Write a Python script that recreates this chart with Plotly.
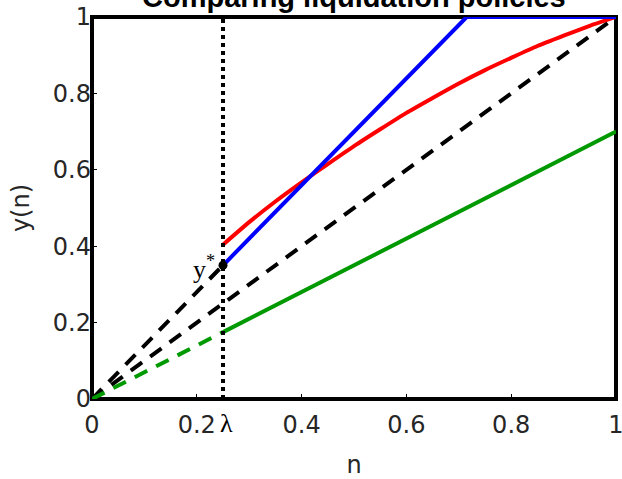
import plotly.graph_objects as go

# ---- data ----
lam = 0.25
y_star = 0.35
green_at_lam = 0.175
green_end = 0.70
blue_x = [0.25, 0.715, 1.0]
blue_y = [0.35, 1.0, 1.0]
red_x = [0.25, 0.30, 0.35, 0.40, 0.45, 0.50, 0.55, 0.60, 0.65, 0.70, 0.75, 0.80, 0.85, 0.90, 0.95, 1.00]
red_y = [0.404, 0.463, 0.517, 0.567, 0.615, 0.662, 0.706, 0.749, 0.788, 0.826, 0.861, 0.893, 0.924, 0.951, 0.977, 1.000]
diag_x = [0.0, 1.0]
diag_y = [0.0, 1.0]
tick_vals = [0, 0.2, 0.4, 0.6, 0.8, 1]
tick_text = ["0", "0.2", "0.4", "0.6", "0.8", "1"]

LW = 4
fig = go.Figure()

fig.add_trace(go.Scatter(x=diag_x, y=diag_y, mode="lines",
                         line=dict(color="black", width=LW, dash="14px,10px"), cliponaxis=False))
fig.add_trace(go.Scatter(x=[0, lam], y=[0, y_star], mode="lines",
                         line=dict(color="black", width=LW, dash="14px,10px"), cliponaxis=False))
fig.add_trace(go.Scatter(x=[0, lam], y=[0, green_at_lam], mode="lines",
                         line=dict(color="#009900", width=LW, dash="14px,10px"), cliponaxis=False))
fig.add_trace(go.Scatter(x=[lam, 1.0], y=[green_at_lam, green_end], mode="lines",
                         line=dict(color="#009900", width=LW), cliponaxis=False))
fig.add_trace(go.Scatter(x=red_x, y=red_y, mode="lines", line_shape="spline",
                         line=dict(color="#ff0000", width=LW, smoothing=0.6), cliponaxis=False))
fig.add_trace(go.Scatter(x=blue_x, y=blue_y, mode="lines",
                         line=dict(color="#0000ff", width=LW), cliponaxis=False))
fig.add_trace(go.Scatter(x=[lam, lam], y=[0, 1], mode="lines",
                         line=dict(color="black", width=LW, dash="dot"), cliponaxis=False))
fig.add_trace(go.Scatter(x=[lam], y=[y_star], mode="markers",
                         marker=dict(color="black", size=9), cliponaxis=False))

axis_common = dict(range=[0, 1], tickvals=tick_vals, ticktext=tick_text,
                   ticks="inside", ticklen=5, tickwidth=1, tickcolor="black",
                   showgrid=False, zeroline=False, showline=False, automargin=False,
                   ticklabeloverflow="allow",
                   tickfont=dict(family="DejaVu Sans", size=24, color="#262626"),
                   title_font=dict(family="DejaVu Sans", size=24, color="#262626"))

fig.update_layout(
    width=622, height=479,
    margin=dict(l=92, r=6, t=17, b=80),
    paper_bgcolor="white", plot_bgcolor="white",
    showlegend=False,
    xaxis=dict(**axis_common, title_text="n", title_standoff=27, ticklabelstandoff=9),
    yaxis=dict(**axis_common, title_text="y(n)", title_standoff=16, ticklabelstandoff=0),
    shapes=[dict(type="rect", xref="paper", yref="paper", x0=0, y0=0, x1=1, y1=1,
                 line=dict(color="black", width=4), layer="below")],
    annotations=[
        dict(text="<b>Comparing liquidation policies</b>", xref="paper", yref="paper",
             x=0.5, y=1, xanchor="center", yanchor="bottom", yshift=2, showarrow=False,
             font=dict(family="Liberation Sans", size=29, color="black")),
        dict(text="y<sup>*</sup>", xref="x", yref="y", x=lam, y=y_star,
             xanchor="right", yanchor="middle", xshift=-6, yshift=-2, showarrow=False,
             font=dict(family="Liberation Serif", size=26, color="black")),
        dict(text="λ", xref="x", yref="y", x=lam, y=0,
             xanchor="center", yanchor="top", xshift=3, yshift=-8, showarrow=False,
             font=dict(family="Liberation Serif", size=26, color="black")),
    ],
)

fig.write_html("out.html", config={"displayModeBar": False},
               post_script="document.body.style.margin='0';document.body.style.overflow='hidden';")
